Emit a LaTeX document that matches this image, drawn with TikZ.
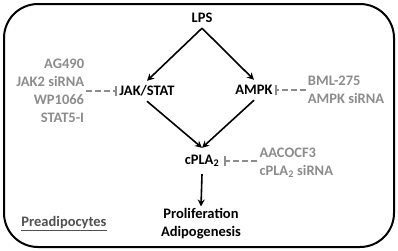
\documentclass[tikz,border=0pt]{standalone}
\usepackage{fontspec}
\setmainfont{Carlito}
\usetikzlibrary{positioning,arrows.meta}
\definecolor{inhibgray}{RGB}{140,140,140}
\definecolor{celldark}{RGB}{80,80,80}

\begin{document}
\begin{tikzpicture}[
  x=1pt, y=-1pt,
  font=\fontsize{14.5}{18}\selectfont\bfseries,
  gene/.style={inner sep=2pt, minimum height=20pt, align=center},
  drug/.style={inner sep=2pt, text=inhibgray, font=\fontsize{14.5}{18}\selectfont\bfseries},
  arr/.style={-{Stealth[length=7pt,width=7pt]}, line width=1.6pt},
  inh/.style={-{Bar[width=10pt]}, line width=1.8pt, inhibgray,
              dash pattern=on 6pt off 3pt}
]
\useasboundingbox (0,0) rectangle (398,250);
\draw[line width=2pt, rounded corners=34pt] (4,4) rectangle (394,247);

\node[gene] (lps)  at (202,18)  {LPS};
\node[gene] (jak)  at (147,91)  {JAK/STAT};
\node[gene] (ampk) at (254,90)  {AMPK};
\node[gene, minimum height=26pt, inner xsep=5pt] (cpla) at (202,161) {cPLA\textsubscript{2}};
\node[gene] (prolif) at (201,224) {Proliferation\\Adipogenesis};
\node[gene, text=celldark] (cell) at (64,224) {\underline{Preadipocytes}};

%% inhibitors in gray
\node[drug, align=right, left=31pt of jak]  (jakinh)  {AG490\\JAK2 siRNA\\WP1066\\STAT5-I};
\node[drug, align=left, right=31pt of ampk] (ampkinh) {BML-275\\AMPK siRNA};
\node[drug, align=left, right=33pt of cpla, yshift=-2pt] (cplainh) {AACOCF3\\cPLA\textsubscript{2} siRNA};

\draw[arr] (lps.south)--(jak.north);  \draw[arr] (lps.south)--(ampk.north);
\draw[arr] (jak.south)--(cpla.north); \draw[arr] (ampk.south)--(cpla.north);
\draw[arr] (cpla.south)--(prolif.north);

\draw[inh] (jakinh.east)--(jak.west);
\draw[inh] (ampkinh.west)--(ampk.east);
\draw[inh] (cplainh.west|-cpla.east)--(cpla.east);
\end{tikzpicture}
\end{document}
